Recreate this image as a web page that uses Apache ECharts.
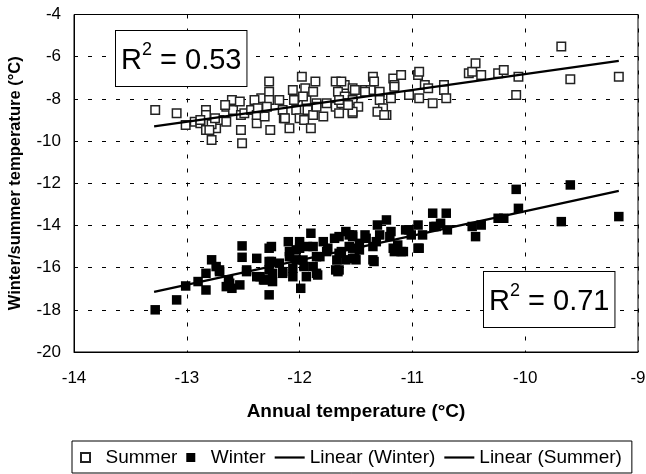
<!DOCTYPE html>
<html>
<head>
<meta charset="utf-8">
<script src="https://cdn.jsdelivr.net/npm/echarts@6/dist/echarts.min.js"></script>
<style>
  html, body { margin: 0; padding: 0; background: #fff; }
  #chart { width: 646px; height: 474px; }
</style>
</head>
<body>
<div id="chart"></div>
<script>
// values: [annual, seasonal] in °C
var summerPoints = [
    [-13.28,-8.53],[-13.09,-8.68],[-13.01,-9.24],[-12.93,-9.08],[-12.88,-9.16],[-12.83,-8.53],
    [-12.83,-8.76],[-12.88,-9.0],[-12.83,-9.47],[-12.78,-9.95],[-12.74,-9.39],[-12.71,-9.0],
    [-12.78,-9.2],[-12.65,-8.37],[-12.60,-8.05],[-12.59,-8.53],[-12.65,-9.08],[-12.52,-9.47],
    [-12.51,-10.1],[-12.52,-8.76],[-12.49,-8.68],[-12.43,-8.53],[-12.38,-9.16],[-12.38,-8.76],
    [-12.34,-7.97],[-12.27,-7.18],[-12.27,-7.66],[-12.27,-8.05],[-12.29,-8.37],[-12.31,-8.84],
    [-12.26,-9.47],[-12.18,-8.05],[-12.15,-8.53],[-12.14,-8.92],[-12.09,-9.39],[-12.06,-7.58],
    [-12.05,-8.05],[-12.03,-8.53],[-12.0,-8.92],[-11.98,-6.95],[-11.95,-7.50],[-11.94,-8.05],
    [-11.93,-8.53],[-11.96,-9.0],[-11.90,-9.39],[-11.86,-7.18],[-11.88,-7.66],[-11.85,-8.21],
    [-11.79,-8.84],[-11.88,-8.76],[-11.68,-7.18],[-11.60,-7.34],[-11.53,-7.50],[-11.66,-7.66],
    [-11.60,-7.89],[-11.68,-8.37],[-11.63,-8.21],[-11.53,-8.05],[-11.53,-8.68],[-11.48,-8.37],
    [-11.63,-7.18],[-11.65,-8.05],[-11.65,-8.68],[-11.53,-8.61],[-11.51,-7.58],[-11.42,-7.58],
    [-11.37,-7.58],[-11.35,-6.95],[-11.34,-7.18],[-11.29,-7.66],[-11.29,-8.05],[-11.26,-8.45],
    [-11.23,-8.76],[-11.19,-7.97],[-11.17,-7.03],[-11.16,-7.34],[-11.10,-6.87],[-11.03,-7.82],
    [-10.95,-6.87],[-10.94,-6.71],[-10.94,-7.97],[-10.89,-7.34],[-10.86,-7.50],[-10.82,-8.21],
    [-10.72,-7.34],[-10.72,-7.58],[-10.70,-7.97],[-10.50,-6.79],[-10.47,-6.71],[-10.44,-6.31],
    [-10.39,-6.87],[-10.24,-6.79],[-10.19,-6.63],[-10.06,-6.95],[-10.08,-7.82],[-9.68,-5.52],
    [-9.60,-7.07],[-9.17,-6.95],
    [-12.13,-8.92],[-11.97,-7.89],[-11.85,-8.37],[-11.76,-8.21],[-11.57,-8.29],[-11.42,-7.66],
    [-11.31,-8.61],[-11.25,-8.76],[-11.16,-7.42],[-12.75,-8.92],[-12.66,-8.29],[-12.53,-8.13],
    [-12.40,-8.05],[-12.37,-8.45],[-12.80,-9.47]
];

var winterPoints = [
    [-13.28,-18.0],[-13.09,-17.53],[-13.01,-16.87],[-12.90,-16.66],[-12.83,-16.27],[-12.83,-17.06],
    [-12.78,-15.63],[-12.74,-15.95],[-12.71,-16.11],[-12.65,-16.90],[-12.63,-16.58],[-12.60,-16.98],
    [-12.53,-16.82],[-12.51,-14.97],[-12.51,-15.51],[-12.47,-16.11],[-12.38,-15.56],[-12.35,-16.43],
    [-12.31,-16.58],[-12.27,-15.08],[-12.27,-15.71],[-12.27,-16.11],[-12.27,-17.29],[-12.24,-16.66],
    [-12.18,-15.79],[-12.15,-16.19],[-12.10,-14.77],[-12.09,-15.24],[-12.06,-16.43],[-12.03,-15.63],
    [-12.0,-15.08],[-11.99,-16.98],[-11.96,-15.95],[-11.94,-16.43],[-11.90,-14.37],[-11.88,-15.0],
    [-11.85,-15.48],[-11.84,-16.35],[-11.79,-14.77],[-11.76,-15.24],[-11.69,-14.61],[-11.68,-16.11],
    [-11.63,-15.24],[-11.59,-15.63],[-11.53,-14.45],[-11.53,-15.08],[-11.50,-15.63],
    [-12.71,-16.19],[-12.62,-16.74],[-12.47,-16.19],[-12.38,-16.43],[-12.32,-16.58],
    [-11.65,-14.53],[-11.65,-15.32],[-11.65,-16.11],[-11.59,-14.29],[-11.56,-15.0],[-11.53,-14.53],
    [-11.51,-15.56],[-11.47,-15.16],[-11.42,-14.45],[-11.35,-15.63],[-11.32,-14.77],[-11.31,-13.98],
    [-11.29,-14.45],[-11.23,-13.74],[-11.19,-14.29],[-11.17,-15.08],[-11.13,-14.93],[-11.10,-15.24],
    [-11.06,-14.21],[-11.01,-14.45],[-10.95,-13.98],[-10.94,-15.08],[-10.91,-14.45],[-10.82,-13.42],
    [-10.79,-14.05],[-10.75,-13.90],[-10.70,-13.42],[-10.69,-14.21],[-10.47,-14.05],[-10.44,-14.53],
    [-10.39,-13.98],[-10.24,-13.66],[-10.19,-13.66],[-10.08,-12.29],[-10.06,-13.19],[-9.68,-13.82],
    [-9.60,-12.08],[-9.17,-13.58],
    [-12.25,-15.0],[-12.25,-15.71],[-12.24,-16.27],[-12.15,-16.27],[-12.09,-15.48],[-12.06,-16.03],
    [-12.03,-15.16],[-12.0,-14.77],[-11.97,-15.64],[-11.93,-15.0],[-11.88,-15.95],[-11.85,-16.27],
    [-11.82,-15.48],[-11.75,-15.08],[-11.67,-15.64],[-11.66,-16.19],[-11.56,-14.45],[-11.53,-15.56],
    [-11.47,-14.85],[-11.41,-14.61],[-11.35,-15.0],[-11.34,-15.71],[-11.20,-14.53],[-11.16,-15.24],
    [-11.08,-15.24],[-11.03,-14.21],[-10.95,-15.08],[-10.81,-14.05]
];

// trend line ends
var winterFit = [[-13.29, -17.15], [-9.17, -12.36]];
var summerFit = [[-13.29, -9.3], [-9.17, -6.2]];

var r2Labels = ['0.53', '0.71'];

var xTicks = { min: -14, max: -9, step: 1 };
var yTicks = { min: -20, max: -4, step: 2 };

var font = "'Liberation Sans', Arial, sans-serif";
var squareIcon = 'path://M0,0H10V10H0Z';
var lineIcon = 'path://M0,0H30V2.2H0Z';

var chart = echarts.init(document.getElementById('chart'));

function r2Box(value, left, top) {
    return {
        type: 'text',
        left: left,
        top: top,
        z: 100,
        style: {
            text: '{r|R}{s|2}{r| = ' + value + '}',
            backgroundColor: '#fff',
            borderColor: '#000',
            borderWidth: 1,
            padding: [10, 5, 11, 5],
            rich: {
                r: { fontFamily: font, fontSize: 29, lineHeight: 34, color: '#000', verticalAlign: 'bottom' },
                s: { fontFamily: font, fontSize: 18, lineHeight: 34, color: '#000', verticalAlign: 'top' }
            }
        }
    };
}

var option = {
    backgroundColor: '#fff',
    animation: false,
    grid: {
        left: 74, right: 8, top: 14.5, bottom: 122,
        show: true, borderColor: '#000', borderWidth: 1,
        outerBoundsMode: 'none'
    },
    legend: {
        left: 72,
        top: 441,
        padding: [7, 10, 6, 8],
        itemGap: 9,
        itemWidth: 30,
        itemHeight: 9,
        borderColor: '#000',
        borderWidth: 1,
        textStyle: { fontFamily: font, fontSize: 19, color: '#000' },
        data: [
            { name: 'Summer', icon: squareIcon },
            { name: 'Winter', icon: squareIcon },
            { name: 'Linear (Winter)', icon: lineIcon },
            { name: 'Linear (Summer)', icon: lineIcon }
        ]
    },
    xAxis: {
        type: 'value',
        min: xTicks.min, max: xTicks.max, interval: xTicks.step,
        name: 'Annual temperature (°C)',
        nameLocation: 'middle',
        nameGap: 50,
        nameTextStyle: { fontFamily: font, fontSize: 19, fontWeight: 'bold', color: '#000' },
        axisLine: { lineStyle: { color: '#000', width: 1 } },
        axisTick: { show: false },
        axisLabel: { fontFamily: font, fontSize: 17, color: '#000', margin: 18 },
        splitLine: { show: true, lineStyle: { color: '#000', width: 1, type: [4, 10] } }
    },
    yAxis: {
        type: 'value',
        min: yTicks.min, max: yTicks.max, interval: yTicks.step,
        name: 'Winter/summer temperature (°C)',
        nameLocation: 'middle',
        nameGap: 50,
        nameTextStyle: { fontFamily: font, fontSize: 16.5, fontWeight: 'bold', color: '#000' },
        axisLine: { show: true, lineStyle: { color: '#000', width: 1 } },
        axisTick: { show: false },
        axisLabel: { fontFamily: font, fontSize: 17, color: '#000', margin: 13 },
        splitLine: { show: true, lineStyle: { color: '#000', width: 1, type: [4, 10] } }
    },
    series: [
        {
            name: 'Summer',
            type: 'scatter',
            symbol: squareIcon,
            symbolSize: 8.5,
            symbolKeepAspect: true,
            itemStyle: { color: '#fff', borderColor: '#222', borderWidth: 1.5, opacity: 1 },
            data: summerPoints,
            z: 3
        },
        {
            name: 'Winter',
            type: 'scatter',
            symbol: squareIcon,
            symbolSize: 9.5,
            symbolKeepAspect: true,
            itemStyle: { color: '#000', borderWidth: 0, opacity: 1 },
            data: winterPoints,
            z: 3
        },
        {
            name: 'Linear (Winter)',
            type: 'line',
            symbol: 'none',
            lineStyle: { color: '#000', width: 2.2 },
            itemStyle: { color: '#000' },
            data: winterFit,
            z: 5
        },
        {
            name: 'Linear (Summer)',
            type: 'line',
            symbol: 'none',
            lineStyle: { color: '#000', width: 2.2 },
            itemStyle: { color: '#000' },
            data: summerFit,
            z: 5
        }
    ],
    graphic: [
        r2Box(r2Labels[0], 115, 30),
        r2Box(r2Labels[1], 483, 271)
    ]
};

chart.setOption(option);
</script>
</body>
</html>
